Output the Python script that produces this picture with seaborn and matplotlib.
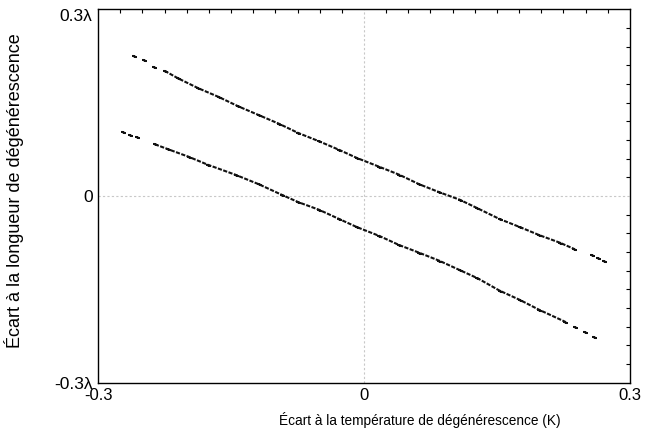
import pandas as pd
import seaborn as sns
import matplotlib.pyplot as plt
from matplotlib.ticker import MultipleLocator

# points (upper branch, lower branch)
upper_x = [-0.260, -0.248, -0.237, -0.225, -0.210, -0.187, -0.164, -0.142, -0.119, -0.096,
           -0.074, -0.051, -0.028, -0.008, 0.017, 0.040, 0.062, 0.085, 0.108, 0.127,
           0.153, 0.176, 0.198, 0.221, 0.237, 0.257, 0.264, 0.271]
upper_y = [0.225, 0.218, 0.207, 0.201, 0.189, 0.173, 0.159, 0.144, 0.130, 0.116,
           0.101, 0.088, 0.074, 0.061, 0.047, 0.034, 0.019, 0.006, -0.006, -0.019,
           -0.037, -0.050, -0.063, -0.075, -0.085, -0.095, -0.100, -0.104]
lower_x = [-0.272, -0.264, -0.256, -0.236, -0.221, -0.198, -0.176, -0.145, -0.119, -0.093,
           -0.074, -0.051, -0.028, -0.008, 0.017, 0.040, 0.062, 0.085, 0.108, 0.128,
           0.153, 0.176, 0.198, 0.227, 0.238, 0.249, 0.260]
lower_y = [0.103, 0.098, 0.095, 0.083, 0.075, 0.063, 0.050, 0.034, 0.019, 0.002,
           -0.010, -0.022, -0.037, -0.050, -0.064, -0.079, -0.091, -0.104, -0.119, -0.132,
           -0.152, -0.167, -0.183, -0.202, -0.210, -0.218, -0.226]

xticks = [-0.3, 0, 0.3]
xlabels = ["-0.3", "0", "0.3"]
yticks = [-0.3, 0, 0.3]
ylabels = ["-0.3λ", "0", "0.3λ"]

sns.set_theme(style="white")
plt.rcParams["font.family"] = ["Liberation Sans", "DejaVu Sans"]
plt.rcParams["text.color"] = "black"
plt.rcParams["axes.labelcolor"] = "black"
plt.rcParams["xtick.color"] = "black"
plt.rcParams["ytick.color"] = "black"

up = pd.DataFrame({"x": upper_x, "y": upper_y})
lo = pd.DataFrame({"x": lower_x, "y": lower_y})

fig = plt.figure(figsize=(6.46, 4.36), dpi=100)
ax = fig.add_axes([0.152, 0.122, 0.823, 0.857])

ax.axhline(0, color="#c8c8c8", lw=0.8, ls=(0, (2, 2)), zorder=0)
ax.axvline(0, color="#c8c8c8", lw=0.8, ls=(0, (2, 2)), zorder=0)

# dense middle parts drawn as dashed lines, sparse ends as separate dashes
for d in [up, lo]:
    sns.lineplot(data=d.iloc[3:-3], x="x", y="y", sort=False, color="#111111",
                 lw=1.5, linestyle=(0, (2.0, 0.7)), ax=ax)
    sns.scatterplot(data=d, x="x", y="y", marker=(2, 2, 66), s=5, color="#111111",
                    linewidth=1.4, ax=ax)

ax.set_xlim(-0.3, 0.3)
ax.set_ylim(-0.3, 0.3)
ax.set_xticks(xticks, xlabels)
ax.set_yticks(yticks, ylabels)
ax.get_yticklabels()[-1].set_va("top")
ax.xaxis.set_minor_locator(MultipleLocator(0.025))
ax.yaxis.set_minor_locator(MultipleLocator(0.03))
ax.tick_params(which="both", direction="in", top=True, right=True)
ax.tick_params(which="major", length=0, pad=4)
ax.tick_params(axis="x", which="major", labelsize=12)
ax.tick_params(axis="y", which="major", labelsize=12.5)
ax.tick_params(which="minor", length=3, width=0.8)
for s in ax.spines.values():
    s.set_color("black")
    s.set_linewidth(1)

ax.set_xlabel("Écart à la température de dégénérescence (K)", fontsize=9.8)
ax.set_ylabel("Écart à la longueur de dégénérescence", fontsize=13)
ax.xaxis.set_label_coords(0.604, -0.078)
ax.yaxis.set_label_coords(-0.14, 0.515)

fig.savefig("out.png", dpi=100)
